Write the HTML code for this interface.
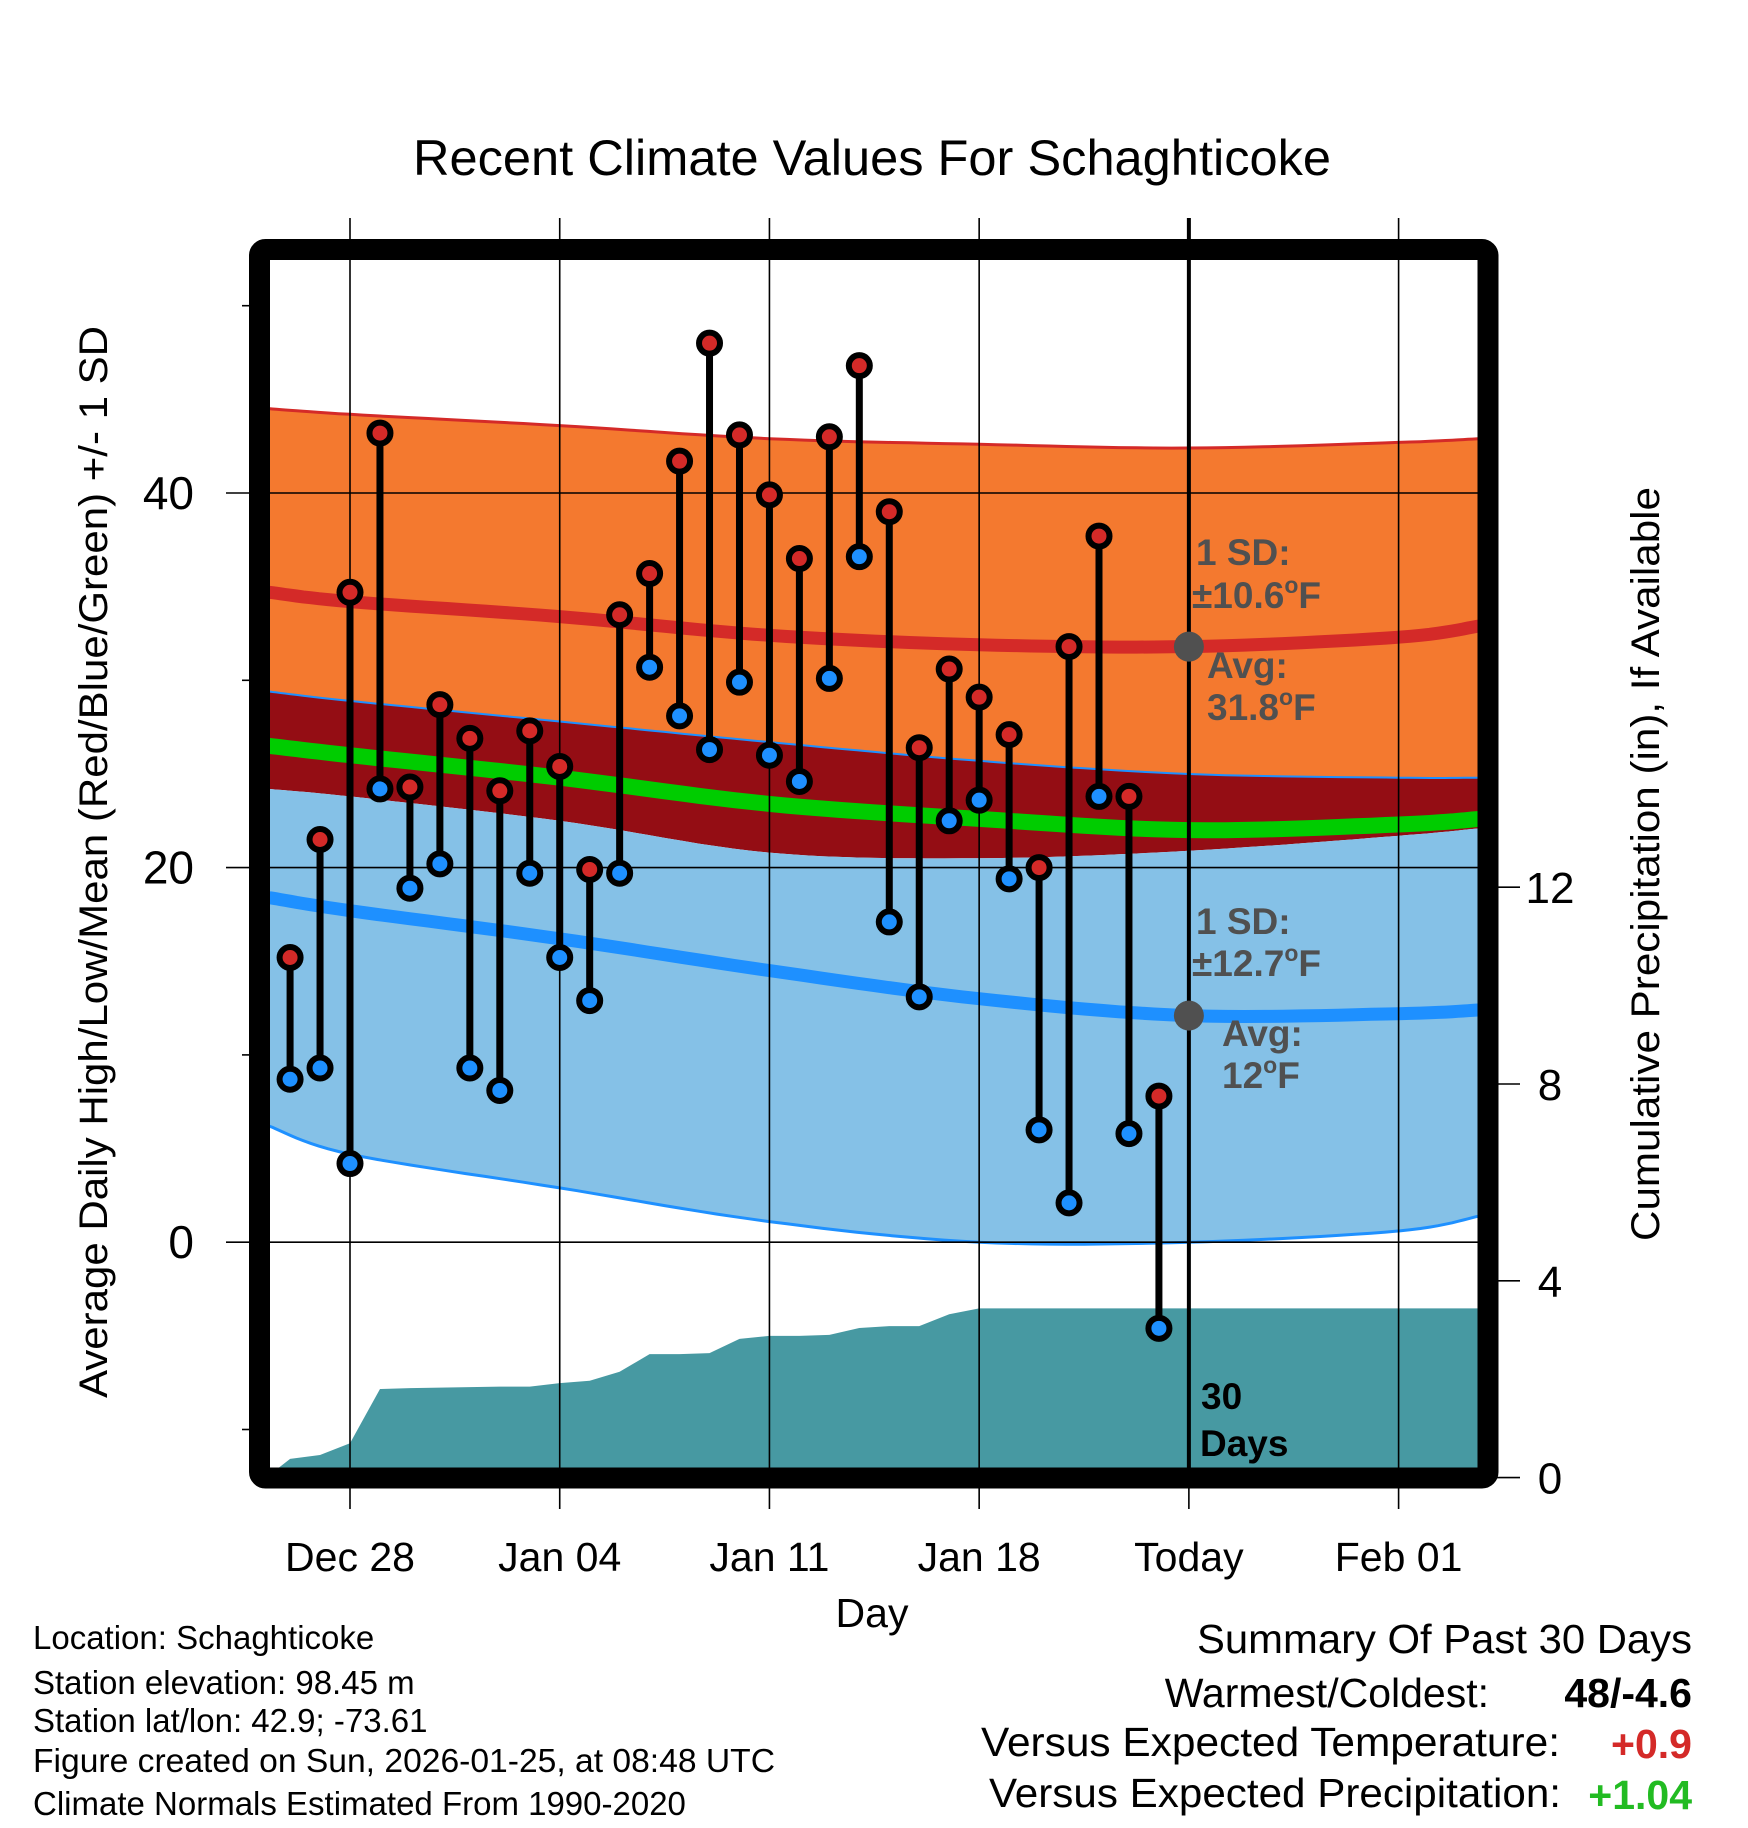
<!DOCTYPE html>
<html><head><meta charset="utf-8"><style>
html,body{margin:0;padding:0;background:#fff;}
svg{display:block;font-family:"Liberation Sans",sans-serif;}
</style></head><body>
<svg id="chart" width="1748" height="1828" viewBox="0 0 1748 1828" xmlns="http://www.w3.org/2000/svg">
<defs><clipPath id="plotclip"><rect x="270" y="260" width="1208" height="1208"/></clipPath></defs>
<rect x="0" y="0" width="1748" height="1828" fill="#fff"/>
<text x="872" y="175" font-size="50" text-anchor="middle" textLength="918" lengthAdjust="spacingAndGlyphs">Recent Climate Values For Schaghticoke</text>
<g id="bands" clip-path="url(#plotclip)"></g>
<g id="grid"></g>
<g id="marks" clip-path="url(#plotclip)"></g>
<g id="annot" font-weight="bold" font-size="37" fill="#505050">
<text x="1196" y="565">1 SD:</text>
<text x="1192" y="608">±10.6<tspan font-size="23" dy="-15">o</tspan><tspan dy="15">F</tspan></text>
<text x="1207" y="678">Avg:</text>
<text x="1207" y="720">31.8<tspan font-size="23" dy="-15">o</tspan><tspan dy="15">F</tspan></text>
<text x="1196" y="934">1 SD:</text>
<text x="1192" y="976">±12.7<tspan font-size="23" dy="-15">o</tspan><tspan dy="15">F</tspan></text>
<text x="1222" y="1046">Avg:</text>
<text x="1222" y="1088">12<tspan font-size="23" dy="-15">o</tspan><tspan dy="15">F</tspan></text>
<text x="1201" y="1409" fill="#000">30</text>
<text x="1200" y="1456" fill="#000">Days</text>
</g>
<rect x="259.5" y="249.5" width="1228.5" height="1228.5" fill="none" stroke="#000" stroke-width="21" rx="6"/>
<g id="axes"></g>
<text x="872" y="1627" font-size="41" text-anchor="middle">Day</text>
<text transform="translate(107,862) rotate(-90)" font-size="40" text-anchor="middle" textLength="1072" lengthAdjust="spacingAndGlyphs">Average Daily High/Low/Mean (Red/Blue/Green) +/- 1 SD</text>
<text transform="translate(1659,864) rotate(-90)" font-size="40" text-anchor="middle" textLength="754" lengthAdjust="spacingAndGlyphs">Cumulative Precipitation (in), If Available</text>
<g font-size="33">
<text x="33" y="1649">Location: Schaghticoke</text>
<text x="33" y="1694">Station elevation: 98.45 m</text>
<text x="33" y="1732">Station lat/lon: 42.9; -73.61</text>
<text x="33" y="1772" textLength="742" lengthAdjust="spacingAndGlyphs">Figure created on Sun, 2026-01-25, at 08:48 UTC</text>
<text x="33" y="1815">Climate Normals Estimated From 1990-2020</text>
</g>
<g font-size="41">
<text x="1692" y="1653" text-anchor="end" textLength="495" lengthAdjust="spacingAndGlyphs">Summary Of Past 30 Days</text>
<text x="1489" y="1707" text-anchor="end">Warmest/Coldest:</text>
<text x="1692" y="1707" text-anchor="end" font-weight="bold">48/-4.6</text>
<text x="1560" y="1756" text-anchor="end" textLength="579" lengthAdjust="spacingAndGlyphs">Versus Expected Temperature:</text>
<text x="1692" y="1758" text-anchor="end" font-weight="bold" fill="#d42a28">+0.9</text>
<text x="1561" y="1807" text-anchor="end" textLength="572" lengthAdjust="spacingAndGlyphs">Versus Expected Precipitation:</text>
<text x="1692" y="1809" text-anchor="end" font-weight="bold" fill="#22bb22">+1.04</text>
</g>
</svg>
<script>
// day offsets relative to Dec 28
const dayOffsets = [-2,-1,0,1,2,3,4,5,6,7,8,9,10,11,12,13,14,15,16,17,18,19,20,21,22,23,24,25,26,27];
const highs = [15.2,21.5,34.7,43.2,24.3,28.7,26.9,24.1,27.3,25.4,19.9,33.5,35.7,41.7,48.0,43.1,39.9,36.5,43.0,46.8,39.0,26.4,30.6,29.1,27.1,20.0,31.8,37.7,23.8,7.8];
const lows = [8.7,9.3,4.2,24.2,18.9,20.2,9.3,8.1,19.7,15.2,12.9,19.7,30.7,28.1,26.3,29.9,26.0,24.6,30.1,36.6,17.1,13.1,22.5,23.6,19.4,6.0,2.1,23.8,5.8,-4.6];
const precip = [0.38,0.46,0.70,1.80,1.82,1.83,1.84,1.85,1.85,1.92,1.97,2.15,2.51,2.51,2.53,2.82,2.88,2.88,2.90,3.04,3.08,3.08,3.32,3.44,3.44,3.44,3.44,3.44,3.44,3.44];
const normDays = [-2.7,0,7,14,21,28,35,37.7];
const hiUpper = [44.5,44.2,43.6,42.9,42.6,42.4,42.7,42.9];
const hiMean = [34.7,34.2,33.4,32.4,31.9,31.8,32.3,32.9];
const hiLower = [29.4,28.9,27.8,26.7,25.7,25.0,24.8,24.8];
const meanAll = [26.5,26.0,24.8,23.4,22.6,22.0,22.3,22.6];
const loUpper = [24.2,23.8,22.5,20.8,20.5,20.9,21.7,22.1];
const loMean = [18.4,17.7,16.2,14.5,13.0,12.1,12.2,12.4];
const loLower = [6.2,4.7,2.9,1.1,0.0,0.0,0.6,1.4];
const xTickDays = [0,7,14,21,28,35];
const xTickLabels = ["Dec 28","Jan 04","Jan 11","Jan 18","Today","Feb 01"];
const yTicks = [0,20,40];
const yMinor = [-10,10,30,50];
const y2Ticks = [0,4,8,12];
const todayDay = 28;

const NS = "http://www.w3.org/2000/svg";
const xs = d => 350 + 29.96*d;
const ys = t => 1242.2 - 18.73*t;
const yp = v => 1477.6 - 49.2*v;
function mk(tag, attrs, parent){const e=document.createElementNS(NS,tag);for(const k in attrs)e.setAttribute(k,attrs[k]);parent.appendChild(e);return e;}
const bands=document.getElementById('bands'), grid=document.getElementById('grid'), marks=document.getElementById('marks'), axes=document.getElementById('axes');
// smooth sampling via Catmull-Rom
function smooth(arr){
  const pts=normDays.map((d,i)=>[xs(d),ys(arr[i])]);
  const out=[];
  for(let i=0;i<pts.length-1;i++){
    const p0=pts[Math.max(0,i-1)],p1=pts[i],p2=pts[i+1],p3=pts[Math.min(pts.length-1,i+2)];
    for(let s=0;s<12;s++){
      const t=s/12,t2=t*t,t3=t2*t;
      const f=(a,b,c,d)=>0.5*((2*b)+(-a+c)*t+(2*a-5*b+4*c-d)*t2+(-a+3*b-3*c+d)*t3);
      out.push(f(p0[0],p1[0],p2[0],p3[0]).toFixed(1)+','+f(p0[1],p1[1],p2[1],p3[1]).toFixed(1));
    }
  }
  const l=pts[pts.length-1];out.push(l[0].toFixed(1)+','+l[1].toFixed(1));
  return out;
}
function band(top,bot,fill,name){
  const p = smooth(top).concat(smooth(bot).reverse()).join(' ');
  const e=mk('polygon',{points:p,fill:fill},bands);
  
  
}
function pl(arr,stroke,w,name){
  const e=mk('polyline',{points:smooth(arr).join(' '),fill:'none',stroke:stroke,'stroke-width':w},bands);
  
  
}
band(hiUpper,hiLower,'#f4792f','high-sd-band');
band(hiLower,loUpper,'#940d14','gap-band');
pl(meanAll,'#00cc00',16,'mean-line');
band(loUpper,loLower,'#85c1e7','low-sd-band');
pl(hiUpper,'#d42a28',3,'high-upper-line');
pl(hiLower,'#1e90ff',2,'high-lower-line');
pl(loLower,'#1e90ff',3,'low-lower-line');
pl(hiMean,'#d42a28',13,'high-mean-line');
pl(loMean,'#1e90ff',13,'low-mean-line');
// precipitation area
{
  let pts=[xs(-2.8).toFixed(1)+','+yp(0)];
  dayOffsets.forEach((d,i)=>pts.push(xs(d).toFixed(1)+','+yp(precip[i]).toFixed(1)));
  pts.push('1478,'+yp(precip[precip.length-1]).toFixed(1));
  pts.push('1478,1470'); pts.push(xs(-2.8).toFixed(1)+',1470');
  const e=mk('polygon',{points:pts.join(' '),fill:'#4799a2'},bands);
  
  
}
// grid
xTickDays.forEach((d,i)=>{
  const e=mk('line',{x1:xs(d),x2:xs(d),y1:218,y2:1509,stroke:'#000','stroke-width':1.6},grid);
  
  
  const t=mk('text',{x:xs(d),y:1571,'font-size':41,'text-anchor':'middle'},axes);
  t.textContent=xTickLabels[i];
  
  
});
yTicks.forEach(v=>{
  const e=mk('line',{x1:226,x2:1478,y1:ys(v),y2:ys(v),stroke:'#000','stroke-width':1.6},grid);
  
  
  const t=mk('text',{x:194,y:ys(v)+16,'font-size':46,'text-anchor':'end'},axes);
  t.textContent=v;
  
  
});
yMinor.forEach(v=>{
  const e=mk('line',{x1:242,x2:254,y1:ys(v),y2:ys(v),stroke:'#000','stroke-width':1.6},axes);
  
  
});
y2Ticks.forEach(v=>{
  const e=mk('line',{x1:1488,x2:1520,y1:yp(v),y2:yp(v),stroke:'#000','stroke-width':1.6},axes);
  
  
  const t=mk('text',{x:1550,y:yp(v)+16,'font-size':44,'text-anchor':'middle'},axes);
  t.textContent=v;
  
  
});
// today line
{
  const e=mk('line',{x1:xs(todayDay),x2:xs(todayDay),y1:218,y2:1470,stroke:'#000','stroke-width':4},grid);
  
  
}
// stems and markers
dayOffsets.forEach((d,i)=>{
  const x=xs(d);
  const s=mk('line',{x1:x,x2:x,y1:ys(highs[i]),y2:ys(lows[i]),stroke:'#000','stroke-width':7},marks);
  
  
  const h=mk('circle',{cx:x,cy:ys(highs[i]),r:10.5,fill:'#d42a28',stroke:'#000','stroke-width':6},marks);
  
  
  const l=mk('circle',{cx:x,cy:ys(lows[i]),r:10.5,fill:'#1e90ff',stroke:'#000','stroke-width':6},marks);
  
  
});
// avg dots at today
[hiMean, loMean].forEach((arr,k)=>{
  const e=mk('circle',{cx:xs(todayDay),cy:ys(arr[5]),r:15,fill:'#505050'},marks);
  
  
});
</script>
</body></html>
